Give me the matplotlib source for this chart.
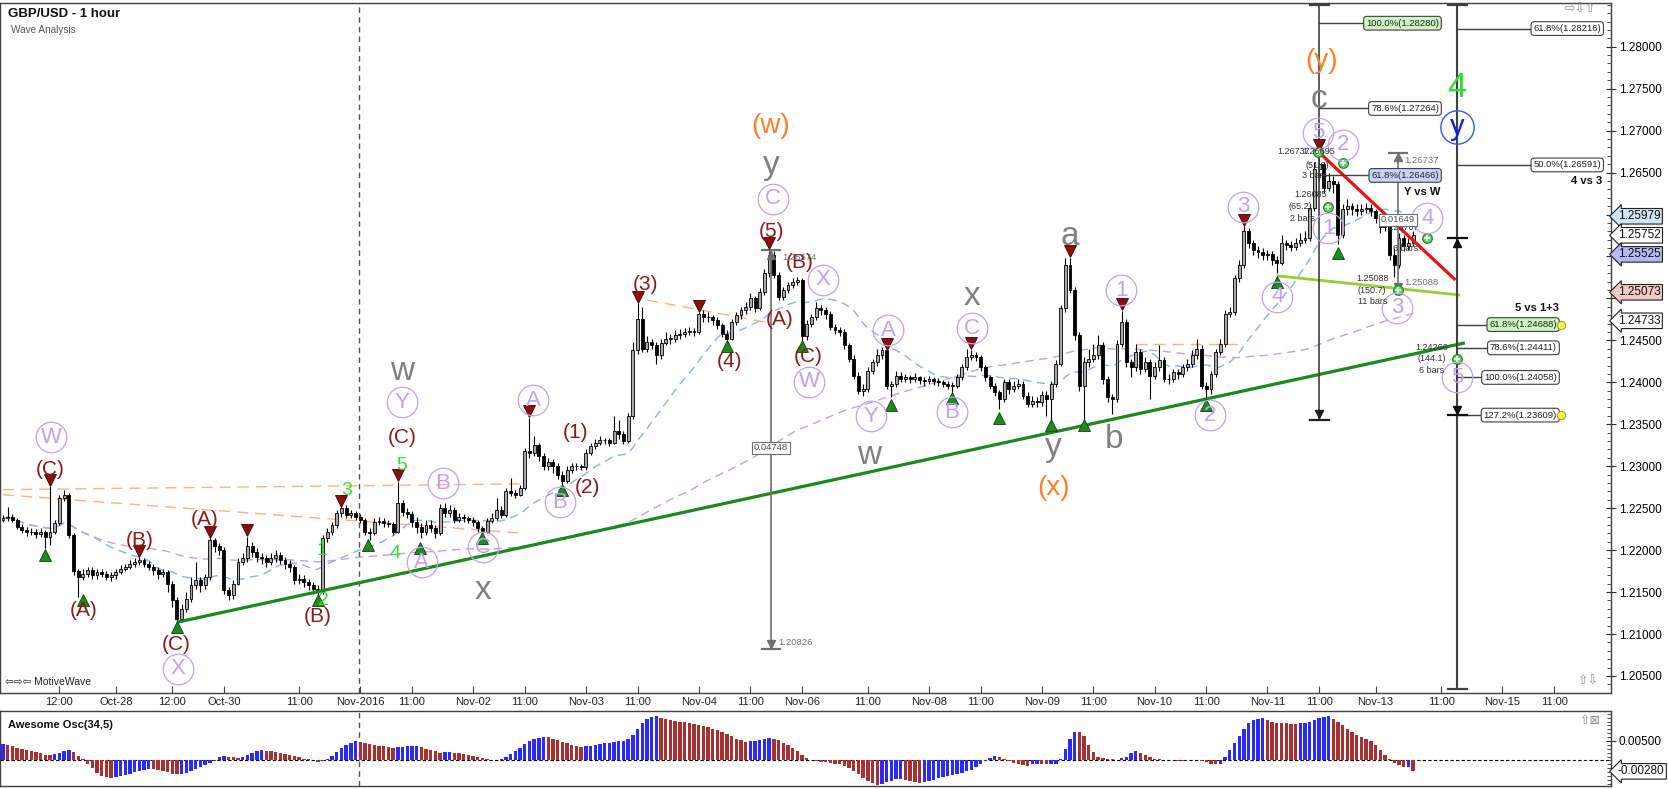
import matplotlib
matplotlib.use('Agg')
import matplotlib.pyplot as plt
import numpy as np
import pandas as pd
from matplotlib import font_manager as fm
from matplotlib.ticker import MultipleLocator, FixedLocator, FuncFormatter

names = {f.name for f in fm.fontManager.ttflist}
base = 'Liberation Sans' if 'Liberation Sans' in names else 'DejaVu Sans'
plt.rcParams['font.family'] = [base, 'DejaVu Sans']

# ---------------- DATA (prices in pips above 1.2000) ----------------
first_open_pips = 236
close_pips = [
238,240,236,228,224,221,222,219,222,216, 222,232,262,266,218,175,168,172,176,170,
174,172,168,170,174,178,180,184,186,188, 184,180,176,172,174,160,140,118,130,142,
158,164,158,168,212,205,200,152,146,160, 186,190,205,198,192,190,186,190,194,188,
184,180,164,166,162,158,154,150,214,222, 230,244,250,242,244,240,236,222,220,234,
235,232,231,222,256,245,243,233,228,222, 230,226,220,250,244,248,236,240,238,236,
233,226,222,235,238,248,242,270,268,266, 274,318,316,325,312,300,305,300,290,282,
296,300,300,299,316,324,328,331,331,328, 342,338,330,360,438,476,440,448,444,432,
447,452,452,456,458,460,461,460,482,478, 478,474,468,458,452,472,480,486,490,500,
488,508,530,552,528,502,510,516,520,522, 455,470,478,488,486,482,466,462,460,444,
428,408,390,392,414,424,432,438,396,398, 408,404,406,404,406,403,401,404,402,400,
398,396,396,406,418,430,432,430,418,406, 396,388,380,400,392,396,398,384,374,378,
376,385,380,398,422,488,540,510,456,396, 424,428,432,444,404,382,380,446,472,424,
418,436,416,424,408,418,426,404,404,412, 410,418,422,432,440,396,392,410,436,446,
482,484,524,540,580,566,558,555,552,553, 546,542,566,564,561,566,570,572,608,654,
660,632,640,636,575,606,610,606,604,606, 608,604,596,585,588,552,540,572,562,566,
575]
high_pips = [
242,251,243,238,231,227,226,225,226,224, 276,236,266,272,268,220,178,178,180,180,
178,177,175,174,178,182,184,188,190,192, 191,187,184,180,178,176,163,144,136,150,
168,186,168,172,214,215,208,204,156,164, 190,196,216,210,202,196,194,196,200,198,
192,188,182,172,170,166,162,158,218,226, 234,248,251,254,248,247,243,238,226,238,
239,238,236,234,281,260,250,247,240,232, 236,236,230,255,256,254,251,244,243,241,
239,236,229,238,244,262,252,274,286,272, 278,322,358,336,328,316,310,308,304,294,
300,304,304,303,320,328,332,336,334,334, 360,355,342,364,448,494,490,455,452,448,
452,460,458,462,464,465,466,465,484,486, 484,480,478,471,462,476,484,490,496,506,
503,512,535,557,556,532,514,520,524,526, 524,474,482,496,492,490,485,470,466,463,
447,432,412,398,418,428,440,442,438,402, 414,412,410,409,411,408,406,408,406,405,
403,401,400,410,422,440,439,436,433,421, 409,399,391,404,404,402,404,402,388,384,
382,390,390,402,426,492,548,548,514,460, 430,440,446,456,448,408,386,450,485,476,
428,446,440,430,428,424,444,430,410,416, 416,422,428,438,452,444,400,414,440,452,
486,490,528,546,586,584,570,562,560,558, 556,550,576,570,568,572,578,580,612,662,
674,662,650,646,640,612,618,614,612,612, 614,612,606,600,596,592,560,578,576,572,
580]
low_pips = [
233,235,233,225,220,217,218,215,216,202, 206,219,230,258,214,170,144,164,168,166,
166,168,164,163,166,171,175,177,180,182, 180,176,170,166,168,150,132,112,114,126,
138,154,150,154,164,198,194,148,140,142, 158,182,186,192,186,184,180,182,186,184,
178,174,160,160,156,152,148,142,148,210, 218,226,240,238,238,236,232,218,212,218,
230,228,227,218,220,241,238,228,220,214, 218,222,215,218,240,240,232,233,234,232,
229,222,216,220,232,236,238,240,264,262, 264,272,310,312,306,296,296,292,285,274,
280,292,296,295,296,313,320,325,326,324, 326,333,326,328,356,434,436,436,440,422,
428,444,446,448,452,454,456,455,457,472, 472,468,464,454,448,450,468,476,482,486,
484,486,504,526,524,498,498,506,512,516, 448,450,466,474,480,476,462,458,455,440,
424,404,386,384,388,410,420,428,392,382, 394,400,400,399,400,398,396,398,397,395,
394,392,388,393,403,415,426,425,414,402, 392,384,368,376,386,388,392,380,370,370,
371,372,360,355,394,420,484,506,450,390, 350,418,424,428,398,376,362,376,442,418,
406,414,410,412,380,404,414,400,398,400, 404,406,414,418,428,392,380,386,406,432,
442,478,480,520,536,560,552,548,546,546, 540,530,540,558,556,558,562,566,568,604,
640,626,628,626,565,572,600,600,598,600, 602,598,590,578,580,546,525,536,556,558,
562]
osc_pips = [
43,40,36,32,30,27,24,21,18,15, 13,16,20,25,28,22,12,3,-8,-20,
-32,-40,-43,-44,-42,-40,-37,-34,-30,-27, -24,-21,-22,-24,-27,-30,-34,-36,-35,-32,
-27,-22,-17,-12,-6,-2,8,12,10,8, 7,9,14,19,23,26,25,23,21,19,
17,15,12,8,5,3,0,-3,-2,3, 12,22,32,40,46,50,48,45,42,40,
38,36,34,33,34,35,36,37,38,34, 30,27,24,20,21,22,20,18,16,14,
12,9,6,4,2,1,4,10,17,25, 33,42,50,56,58,61,60,56,52,48,
44,40,37,35,36,38,40,42,44,46, 48,49,50,56,66,80,95,106,112,113,
110,107,104,102,100,98,96,94,92,89, 86,82,78,73,68,62,56,52,48,50,
51,53,55,57,56,52,46,40,32,24, 14,6,1,-2,-4,-5,-6,-8,-10,-14,
-20,-28,-36,-44,-52,-58,-62,-60,-56,-52, -48,-47,-50,-54,-56,-58,-55,-52,-49,-46,
-43,-40,-37,-34,-31,-28,-24,-18,-10,-2, 6,12,10,4,-2,-6,-8,-12,-14,-10,
-8,-9,-10,-9,-8,5,30,56,74,73, 62,40,22,10,6,4,3,2,6,10,
18,24,20,14,9,5,3,2,1,0, -1,-2,1,2,1,-2,-5,-8,-10,-9,
10,28,45,62,80,96,104,107,108,104, 100,97,96,95,94,93,96,97,100,104,
108,111,114,106,100,90,80,72,66,60, 56,50,40,28,14,4,-6,-12,-18,-17,
-28]

tick_bars = [12,24,36,47,63,76,87,100,111,124,135,148,159,170,184,197,208,221,232,245,256,269,280,292,306,319,330]
tick_labels = ["12:00","Oct-28","12:00","Oct-30","11:00","Nov-2016","11:00","Nov-02","11:00","Nov-03",
               "11:00","Nov-04","11:00","Nov-06","11:00","Nov-08","11:00","Nov-09","11:00","Nov-10",
               "11:00","Nov-11","11:00","Nov-13","11:00","Nov-15","11:00"]
month_sep_bar = 75.8
price_ticks = [1.205, 1.21, 1.215, 1.22, 1.225, 1.23, 1.235, 1.24, 1.245, 1.25, 1.255, 1.26, 1.265, 1.27, 1.275, 1.28]
hidden_price_labels = [1.25, 1.255, 1.26]   # covered by the price tags

# trend lines: (bar0, bar1), (pips0, pips1)
green_line = ([37, 311], [114, 447])
red_line = ([280, 309], [674, 522])
lime_line = ([271, 310], [527, 504])
orange_lines = [([0, 111], [272, 279]), ([0, 111], [266, 220]), ([137, 162], [498, 472]), ([241, 264], [446, 446])]

# wave labels
dr_text = ["(C)","(A)","(B)","(A)","(C)","(B)","(C)","(1)","(2)","(3)","(4)","(5)","(A)","(B)","(C)"]
dr_bar = [10, 17.2, 29.1, 43, 36.8, 67, 84.9, 121.7, 124.3, 136.6, 154.5, 163.4, 165.3, 169.4, 171.3]
dr_pip = [295.5, 128.6, 212, 236, 87, 121.4, 334.8, 339.6, 275.2, 516, 424.2, 579.2, 474.3, 542.2, 430.2]
gd_text = ["1","2","3","5","4"]
gd_bar = [67.9, 68.1, 73.2, 84.9, 83.4]
gd_pip = [200, 140.5, 271.6, 301.4, 196.5]
lv_text = ["W","X","Y","B","A","C","A","B","C","X","W","A","Y","C","B","1","2","3","4","5","1","2","3","4","5"]
lv_bar = [10.2, 37.2, 84.9, 93.6, 89.1, 102.1, 112.8, 118.5, 163.8, 174.5, 171.5, 188.3, 184.7, 206.2, 201.9,
          237.9, 256.8, 263.8, 271.1, 279.8, 281.9, 285.1, 296.6, 303, 309.4]
lv_pip = [334.8, 58.3, 376.5, 279.5, 185.5, 203.6, 378.9, 257.3, 618.5, 522, 400.4, 462.3, 359.8, 464.7, 364.6,
          510, 361, 609, 501.7, 697.2, 583.9, 682.9, 488.6, 595.8, 406.3]
gy_text = ["w","x","y","x","w","y","a","b","c"]
gy_bar = [84.9, 102.1, 163.4, 206.2, 184.3, 223.4, 227, 236.4, 280]
gy_pip = [412.3, 152, 659, 501.7, 313.3, 321.7, 573.2, 332.4, 736.5]
or_text = ["(w)","(x)","(y)"]
or_bar = [163.4, 223.4, 280.6]
or_pip = [705.5, 274, 783]

red_tri_bar = [10, 29, 44, 52, 72, 84, 112, 135, 148, 163, 188, 206, 227, 238, 264, 280]
red_tri_pip = [284, 199, 222, 224, 258, 289, 366, 502, 491, 566, 446, 447, 556, 493, 594, 683]
grn_tri_bar = [9, 17, 37, 67, 77.7, 88.7, 101.8, 119, 154, 170, 189, 202, 212, 223, 230, 256, 271, 284]
grn_tri_pip = [194, 140, 108, 140, 206, 203, 215, 272, 443, 443, 373, 381, 357, 349, 349, 373, 520, 554]
cplus_bar = [279.8, 285.1, 281.9, 303, 296.8, 309.4]
cplus_pip = [674.5, 661.4, 609, 572, 510, 427.8]

fibA_pct = [100.0, 78.6, 61.8]
fibA_lvl = [1.28280, 1.27264, 1.26466]
fibA_fc = ['#ccf5c0', 'white', '#c9d3f5']
fibB_pct = [61.8, 50.0, 61.8, 78.6, 100.0, 127.2]
fibB_lvl = [1.28216, 1.26591, 1.24688, 1.24411, 1.24058, 1.23609]
fibB_fc = ['white', 'white', '#ccf5c0', 'white', 'white', 'white']

tag_vals = [1.25979, 1.25752, 1.25525, 1.25073, 1.24733]
tag_fc = ['#cfe5f5', 'white', '#b8b8f0', '#f5c8c8', 'white']

small_dark = [("1.26737", 274.5, 674.5), ("1.26695", 280.0, 674.5), ("(51.0)", 279.6, 659), ("3 bars", 279.0, 646),
              ("1.26085", 278.3, 623.3), ("(65.2)", 276.0, 609), ("2 bars", 276.4, 595.8),
              ("1.25088", 291.3, 524.3), ("(150.7)", 291.3, 510), ("11 bars", 291.5, 496.9),
              ("1.24266", 304.0, 442), ("(144.1)", 304.0, 427.8), ("6 bars", 304.0, 413.5),
              ("1.25707", 297.7, 585), ("6 bars", 298.3, 560)]
small_gray_left = [("1.25088", 298.2, 518.4), ("1.26737", 298.2, 663.8), ("1.20826", 165.0, 90.4), ("1.25574", 165.7, 548.2)]
bold_notes = [("Y vs W", 301.9, 626.8, 'center'), ("4 vs 3", 340.2, 640, 'right'), ("5 vs 1+3", 326.4, 488.6, 'center')]
boxed_notes = [("0.04748", 163.4, 321.7), ("0.01649", 296.8, 593.5)]

# ---------------- derived ----------------
P = lambda v: 1.2 + np.asarray(v, dtype=float) / 1e4
c = P(close_pips); h = P(high_pips); l = P(low_pips)
o = np.concatenate([[P(first_open_pips)], c[:-1]])
h = np.maximum(h, np.maximum(o, c)); l = np.minimum(l, np.minimum(o, c))
n = len(c); x = np.arange(n)

W, H = 1668, 789
fig = plt.figure(figsize=(W/100, H/100), dpi=100)
def rect(x0, y0, x1, y1):
    return [x0/W, 1-y1/H, (x1-x0)/W, (y1-y0)/H]
ax = fig.add_axes(rect(0, 3, 1611, 693))
axo = fig.add_axes(rect(0, 711, 1611, 786), sharex=ax)

ax.set_xlim(-0.64, 342.1)
ax.set_ylim(1.202968, 1.285209)

for a in (ax, axo):
    for s in a.spines.values():
        s.set_color('#404040'); s.set_linewidth(1.0)

# moving averages
s = pd.Series(c)
ax.plot(x, s.rolling(20, min_periods=1).mean(), color='#8ab0f0', lw=1, ls=(0, (6, 4)), zorder=2)
ax.plot(x, s.rolling(100, min_periods=1).mean(), color='#c8a0d8', lw=1, ls=(0, (6, 4)), zorder=2)

for bx, bp in orange_lines:
    ax.plot(bx, P(bp), color='#ffb080', lw=1, ls=(0, (8, 5)), zorder=2)

ax.axvline(month_sep_bar, color='#555555', lw=1, ls=(0, (4, 3)), zorder=1)
axo.axvline(month_sep_bar, color='#555555', lw=1, ls=(0, (4, 3)), zorder=1)

# candles
up = c >= o
ax.vlines(x, l, h, color='black', lw=0.8, zorder=3)
bb = np.minimum(o, c); bh = np.maximum(np.abs(c - o), 0.00003)
ax.bar(x[up], bh[up], bottom=bb[up], width=0.62, color='#a9a9a9', edgecolor='black', lw=0.6, zorder=4)
ax.bar(x[~up], bh[~up], bottom=bb[~up], width=0.62, color='black', edgecolor='black', lw=0.6, zorder=4)

# trend lines
ax.plot(green_line[0], P(green_line[1]), color='#1a8a1a', lw=2.3, zorder=5, solid_capstyle='butt')
ax.plot(red_line[0], P(red_line[1]), color='#ee1111', lw=2.3, zorder=5, solid_capstyle='butt')
ax.plot(lime_line[0], P(lime_line[1]), color='#9acd32', lw=2.0, zorder=5, solid_capstyle='butt')

# measurement lines
def vline(xb, p0, p1, col, lw=1.2):
    ax.plot([xb, xb], [p0, p1], color=col, lw=lw, zorder=5)
def tcap(xb, p, col, w=2.0):
    ax.plot([xb - w, xb + w], [p, p], color=col, lw=1.6, zorder=6)
def arrow(xb, p, upw, col, ms=6):
    ax.plot([xb], [p], marker='^' if upw else 'v', ms=ms, color=col, zorder=6, ls='none')

vline(163.4, 1.25574, 1.20826, '#707070')
tcap(163.4, 1.25574, '#707070'); arrow(163.4, 1.25520, True, '#707070')
tcap(163.4, 1.20826, '#707070'); arrow(163.4, 1.20880, False, '#707070')

vline(280.0, 1.2852, 1.2355, '#404040')
tcap(280.0, 1.2850, '#404040'); tcap(280.0, 1.2355, '#202020'); arrow(280.0, 1.2362, False, '#202020')

vline(309.4, 1.2854, 1.2034, '#404040', lw=1.5)
tcap(309.4, 1.2850, '#404040'); tcap(309.4, 1.2035, '#404040')
tcap(309.4, 1.2572, '#101010'); arrow(309.4, 1.2566, True, '#101010')
tcap(309.4, 1.23609, '#101010'); arrow(309.4, 1.23670, False, '#101010')

vline(296.8, 1.26737, 1.25088, '#707070')
tcap(296.8, 1.26737, '#707070'); arrow(296.8, 1.26680, True, '#707070'); arrow(296.8, 1.25140, False, '#707070')

# fib labels
def fibbox(xr, lvl, txt, fc, x0, x1):
    ax.plot([x0, x1], [lvl, lvl], color='#404040', lw=1, zorder=5)
    ax.text(xr, lvl, txt, ha='right', va='center', fontsize=6.8, color='#202020', zorder=8,
            bbox=dict(boxstyle='round,pad=0.25,rounding_size=0.35', fc=fc, ec='#404040', lw=0.8))
for pct, lvl, fc in zip(fibA_pct, fibA_lvl, fibA_fc):
    fibbox(305.5, lvl, f"{pct:.1f}%({lvl:.5f})", fc, 280.0, 300)
for i, (pct, lvl, fc) in enumerate(zip(fibB_pct, fibB_lvl, fibB_fc)):
    if i < 2:
        fibbox(340.0, lvl, f"{pct:.1f}%({lvl:.5f})", fc, 309.4, 330)
    else:
        fibbox(330.6, lvl, f"{pct:.1f}%({lvl:.5f})", fc, 309.4, 320)
for lvl in (fibB_lvl[2], fibB_lvl[5]):
    ax.plot([331.4], [lvl], 'o', ms=6, mfc='#f5f060', mec='#a0a000', mew=0.7, zorder=9)

# markers
ax.plot(red_tri_bar, P(red_tri_pip), 'v', ms=8, mfc='#8b0f0f', mec='#400000', mew=0.6, ls='none', zorder=7)
ax.plot(grn_tri_bar, P(grn_tri_pip), '^', ms=8, mfc='#1f8a1f', mec='#0a400a', mew=0.6, ls='none', zorder=7)
ax.plot(cplus_bar, P(cplus_pip), 'o', ms=7, mfc='#5fd35f', mec='#208020', mew=0.8, ls='none', zorder=8)
ax.plot(cplus_bar, P(cplus_pip), '+', ms=5, color='white', mew=1.1, ls='none', zorder=9)

# wave labels
LAV = '#c59ef7'
for t, b, p in zip(dr_text, dr_bar, dr_pip):
    ax.text(b, P(p), t, color='#8b1a1a', fontsize=15, ha='center', va='center', zorder=8)
for t, b, p in zip(gd_text, gd_bar, gd_pip):
    ax.text(b, P(p), t, color='#33dd33', fontsize=14, ha='center', va='center', zorder=8)
for t, b, p in zip(lv_text, lv_bar, lv_pip):
    ax.plot([b], [P(p)], 'o', ms=22, mfc='none', mec=LAV, mew=0.9, zorder=8)
    ax.text(b, P(p), t, color=LAV, fontsize=16, ha='center', va='center', zorder=8)
for t, b, p in zip(gy_text, gy_bar, gy_pip):
    ax.text(b, P(p), t, color='#808080', fontsize=24, ha='center', va='center', zorder=8)
for t, b, p in zip(or_text, or_bar, or_pip):
    ax.text(b, P(p), t, color='#ff7f27', fontsize=20, ha='center', va='center', zorder=8)
ax.text(309.4, 1.27508, "4", color='#33dd33', fontsize=25, ha='center', va='center', zorder=8)
ax.plot([309.4], [1.27043], 'o', ms=24, mfc='none', mec='#3355ff', mew=1.0, zorder=8)
ax.text(309.4, 1.27043, "y", color='#1a1aee', fontsize=21, ha='center', va='center', zorder=8)

for t, b, p in small_dark:
    ax.text(b, P(p), t, color='#303030', fontsize=6.5, ha='center', va='center', zorder=9)
for t, b, p in small_gray_left:
    ax.text(b, P(p), t, color='#707070', fontsize=6.8, ha='left', va='center', zorder=9)
for t, b, p, ha in bold_notes:
    ax.text(b, P(p), t, color='#101010', fontsize=8, fontweight='bold', ha=ha, va='center', zorder=9)
for t, b, p in boxed_notes:
    ax.text(b, P(p), t, color='#505050', fontsize=6.8, ha='center', va='center', zorder=9,
            bbox=dict(boxstyle='square,pad=0.2', fc='white', ec='#707070', lw=0.8))

# axes ticks
ax.set_xticks(tick_bars)
ax.set_xticklabels(tick_labels, fontsize=8, color='#202020')
ax.tick_params(axis='x', direction='in', length=5, pad=3, color='#404040')
ax.yaxis.tick_right()
ax.yaxis.set_major_locator(FixedLocator(price_ticks))
ax.yaxis.set_minor_locator(MultipleLocator(0.001))
ax.yaxis.set_major_formatter(FuncFormatter(
    lambda v, pos: '' if any(abs(v - hv) < 1e-7 for hv in hidden_price_labels) else f"{v:.5f}"))
ax.tick_params(axis='y', which='major', direction='inout', length=7, pad=2, labelsize=8.5, color='#303030')
ax.tick_params(axis='y', which='minor', direction='in', length=3, color='#303030')

for v, fc in zip(tag_vals, tag_fc):
    ax.annotate(f"{v:.5f}", xy=(1.0, v), xycoords=('axes fraction', 'data'), xytext=(5, 0),
                textcoords='offset points', ha='left', va='center', fontsize=8.5, color='#101010',
                annotation_clip=False, zorder=20,
                bbox=dict(boxstyle='larrow,pad=0.15', fc=fc, ec='#202020', lw=0.8))

# oscillator
osc = np.asarray(osc_pips, dtype=float) / 1e4
prev = np.concatenate([[osc[0]], osc[:-1]])
cols = np.where(osc >= prev, '#2a2aff', '#a83030')
axo.bar(x, osc, width=0.72, color=cols, edgecolor='none', zorder=3)
axo.axhline(0, color='black', lw=0.8, ls=(0, (3, 2)), zorder=2)
axo.set_ylim(-0.00656, 0.0127)
axo.yaxis.tick_right()
axo.yaxis.set_major_locator(FixedLocator([0.005]))
axo.yaxis.set_minor_locator(MultipleLocator(0.001))
axo.yaxis.set_major_formatter(FuncFormatter(lambda v, pos: f"{v:.5f}"))
axo.tick_params(axis='y', which='major', direction='inout', length=7, pad=2, labelsize=8.5, color='#303030')
axo.tick_params(axis='y', which='minor', direction='in', length=3, color='#303030')
axo.tick_params(axis='x', bottom=False, labelbottom=False)
axo.annotate(f"{osc[-1]:.5f}", xy=(1.0, osc[-1]), xycoords=('axes fraction', 'data'), xytext=(5, 0),
             textcoords='offset points', ha='left', va='center', fontsize=8.5, color='#101010',
             annotation_clip=False, zorder=20,
             bbox=dict(boxstyle='larrow,pad=0.15', fc='white', ec='#202020', lw=0.8))

# texts & icons
fig.text(8/W, 1-14/H, "GBP/USD - 1 hour", fontsize=9.5, fontweight='bold', color='#101010', va='center')
fig.text(11/W, 1-30/H, "Wave Analysis", fontsize=7.2, color='#555555', va='center')
fig.text(5/W, 1-682/H, "⇦⇨⇦ MotiveWave", fontsize=7.5, color='#202020', va='center')
fig.text(1565/W, 1-10/H, "⇨⇩⇧", fontsize=9, color='#909090', va='center')
fig.text(1578/W, 1-682/H, "⇧⇩", fontsize=9, color='#909090', va='center')
fig.text(1580/W, 1-721/H, "⇧⊠", fontsize=9, color='#909090', va='center')
fig.text(8/W, 1-725/H, "Awesome Osc(34,5)", fontsize=8, fontweight='bold', color='#101010', va='center')

fig.savefig('out.png', dpi=100, facecolor='white')
